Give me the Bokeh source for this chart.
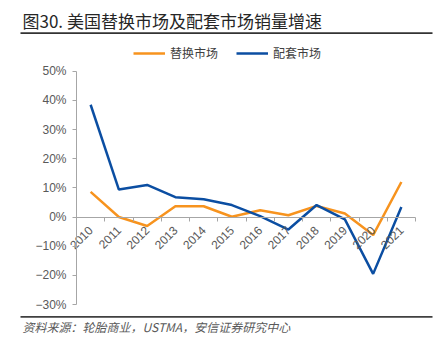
import math
from bokeh.plotting import figure
from bokeh.models import (Range1d, LinearAxis, FixedTicker, Label,
                          BoxAnnotation, Legend, LegendItem, CustomJSTickFormatter)
from bokeh.embed import file_html
from bokeh.resources import INLINE

years = [str(y) for y in range(2010, 2022)]
replacement = [8.6, 0.0, -3.1, 3.7, 3.7, 0.1, 2.3, 0.6, 3.8, 1.2, -6.2, 12.0]
oem = [38.5, 9.4, 11.0, 6.8, 6.1, 4.1, 0.3, -4.3, 4.1, -0.8, -19.5, 3.4]
series_names = ["替换市场", "配套市场"]
y_ticks = [-30, -20, -10, 0, 10, 20, 30, 40, 50]
title_text = "图30. 美国替换市场及配套市场销量增速"
source_text = "资料来源：轮胎商业，USTMA，安信证券研究中心"

ORANGE = "#F7931E"
BLUE = "#0B4EA2"
GRAY = "#595959"
AXIS = "#A6A6A6"
CJK = "Noto Sans CJK SC"
W, H = 447, 349

n = len(years)
xpos = [i + 0.5 for i in range(n)]          # category centres
boundaries = list(range(n + 1))               # category edges

# frame covers the whole canvas; data area is 76..415 px wide, 70.7..304 px tall
cat_w = (415 - 76) / n
x_start, x_end = -76 / cat_w, n + (W - 415) / cat_w
ppu = (304 - 70.7) / 80.0
y_start, y_end = -30 - (H - 304) / ppu, 50 + 70.7 / ppu

p = figure(width=W, height=H, x_range=Range1d(x_start, x_end), y_range=Range1d(y_start, y_end),
           output_backend="svg", toolbar_location=None,
           x_axis_location=None, y_axis_location=None,
           min_border_left=0, min_border_right=0, min_border_top=0, min_border_bottom=0)
p.outline_line_color = None
p.xgrid.visible = False
p.ygrid.visible = False
p.background_fill_color = "white"
p.border_fill_color = "white"

r1 = p.line(xpos, replacement, line_color=ORANGE, line_width=2.5)
r2 = p.line(xpos, oem, line_color=BLUE, line_width=2.5)

ya = LinearAxis(fixed_location=0, bounds=(y_ticks[0], y_ticks[-1]),
                ticker=FixedTicker(ticks=y_ticks),
                formatter=CustomJSTickFormatter(code="return (tick < 0 ? '\u2212' : '') + Math.abs(tick) + '%';"),
                axis_line_color=AXIS, major_tick_line_color=AXIS, major_tick_out=4, major_tick_in=0,
                minor_tick_line_color=None, major_label_text_font="Liberation Sans",
                major_label_text_font_size="12px", major_label_text_color=GRAY,
                major_label_standoff=6)
p.add_layout(ya, "left")

xa = LinearAxis(fixed_location=0, bounds=(0, n), ticker=FixedTicker(ticks=xpos),
                major_label_overrides={x: yr for x, yr in zip(xpos, years)},
                axis_line_color=AXIS, major_tick_line_color=None, minor_tick_line_color=None,
                major_label_orientation=math.pi / 4, major_label_text_font="Liberation Sans",
                major_label_text_font_size="12px", major_label_text_color=GRAY,
                major_label_standoff=5)
p.add_layout(xa, "below")

xb = LinearAxis(fixed_location=0, ticker=FixedTicker(ticks=boundaries),
                axis_line_color=None, major_tick_line_color=AXIS, major_tick_out=4, major_tick_in=0,
                minor_tick_line_color=None, major_label_text_color=None)
p.add_layout(xb, "below")

legend = Legend(items=[LegendItem(label=series_names[0], renderers=[r1]),
                       LegendItem(label=series_names[1], renderers=[r2])],
                orientation="horizontal", location=(133, H - 61), glyph_width=32, glyph_height=14,
                label_text_font=CJK, label_text_font_size="12px", label_text_color="#404040",
                label_height=14, spacing=18, padding=0, margin=0, border_line_color=None,
                background_fill_alpha=0, label_standoff=5)
p.add_layout(legend)

p.add_layout(Label(x=22, y=H - 20, x_units="screen", y_units="screen", text=title_text,
                   text_font=CJK, text_font_size="17px", text_color="#262626",
                   text_baseline="middle"))
p.add_layout(Label(x=22, y=H - 326, x_units="screen", y_units="screen", text=source_text,
                   text_font=CJK, text_font_size="12px", text_color=GRAY,
                   text_font_style="italic", text_baseline="middle"))
p.add_layout(BoxAnnotation(left=20, right=432, top=H - 31.8, bottom=H - 33.4, left_units="screen",
                           right_units="screen", top_units="screen", bottom_units="screen",
                           fill_color="#333333", fill_alpha=1, line_color=None))
p.add_layout(BoxAnnotation(left=20, right=432, top=H - 315.6, bottom=H - 317.2, left_units="screen",
                           right_units="screen", top_units="screen", bottom_units="screen",
                           fill_color="#404040", fill_alpha=1, line_color=None))

open("out.html", "w").write(file_html(p, INLINE))
